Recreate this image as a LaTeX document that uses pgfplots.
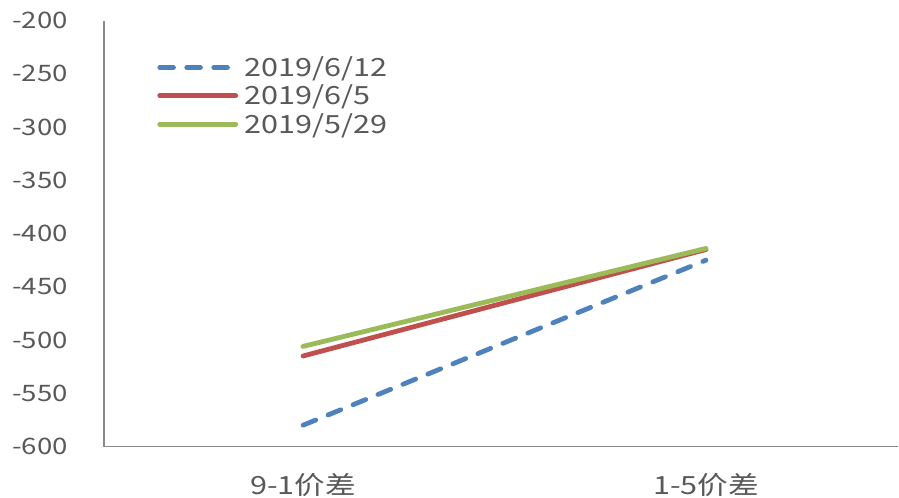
\documentclass[border=0pt]{standalone}
\usepackage{pgfplots}
\pgfplotsset{compat=1.18}
\usepackage{fontspec}
\setmainfont{Noto Sans CJK SC}[FakeStretch=1.22]
\definecolor{txtgray}{HTML}{595959}
\definecolor{axgray}{HTML}{898989}
\definecolor{sblue}{HTML}{4F81BD}
\definecolor{sred}{HTML}{C0504D}
\definecolor{sgreen}{HTML}{9BBB59}
\begin{document}
\begin{tikzpicture}
\path[use as bounding box] (0,0) rectangle (674.25pt,373.5pt);
\begin{axis}[
  at={(78pt,38.6pt)}, anchor=south west,
  scale only axis, width=595.5pt, height=319.5pt,
  xmin=-0.4938, xmax=1.4764,
  ymin=-600, ymax=-200,
  axis x line=bottom, axis y line=left,
  axis line style={-, draw=axgray, line width=1pt},
  major tick length=0pt,
  xtick={0,1}, xticklabels={9-1价差,1-5价差},
  ytick={-600,-550,-500,-450,-400,-350,-300,-250,-200},
  yticklabels={-600,-550,-500,-450,-400,-350,-300,-250,-200},
  tick label style={font=\fontsize{17pt}{20pt}\selectfont, text=txtgray},
  y tick label style={anchor=east, inner sep=0pt, xshift=-27pt},
  x tick label style={anchor=north, inner sep=0pt, yshift=-20pt,
    font=\fontsize{18.8pt}{22pt}\selectfont},
  clip=false,
  legend cell align=left,
  legend style={draw=none, fill=none, at={(39.8pt,294pt)}, anchor=north west,
    font=\fontsize{18.8pt}{20pt}\selectfont, text=txtgray,
    row sep=2.5pt, column sep=3.5pt, inner sep=0pt,
    nodes={inner sep=1.2pt}},
  legend image code/.code={\draw[#1] (0pt,0pt) -- (57pt,0pt);},
]
\addplot[sblue, line width=3.6pt, line cap=round, dash pattern=on 10.3pt off 9.95pt]
  coordinates {(0,-580) (1,-425)};
\addlegendentry{2019/6/12}
\addplot[sred, line width=3.6pt, line cap=round]
  coordinates {(0,-515) (1,-415)};
\addlegendentry{2019/6/5}
\addplot[sgreen, line width=3.6pt, line cap=round]
  coordinates {(0,-506) (1,-414)};
\addlegendentry{2019/5/29}
\end{axis}
\end{tikzpicture}
\end{document}
